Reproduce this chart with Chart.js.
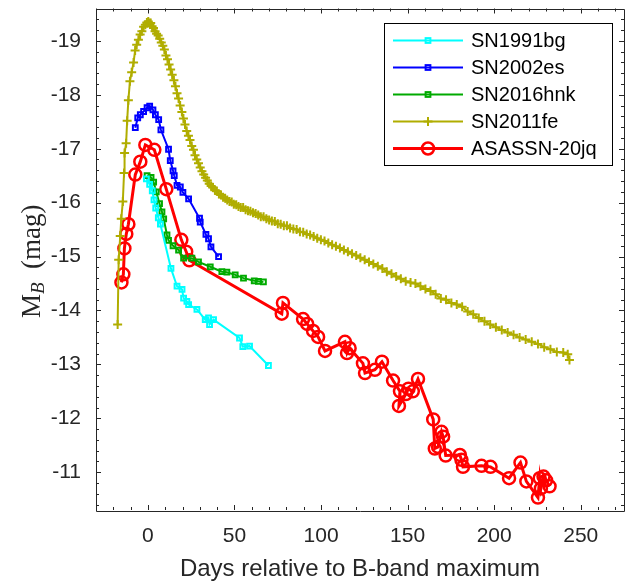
<!DOCTYPE html>
<html>
<head>
<meta charset="utf-8">
<script src="https://cdn.jsdelivr.net/npm/chart.js@4.4.1/dist/chart.umd.min.js"></script>
<style>
  body { margin: 0; background: #fff; }
</style>
</head>
<body>
<canvas id="lcChart" width="635" height="584"></canvas>
<script>
// light curves: days relative to B max, absolute B magnitude
var sn1991bgDays = [-0.9, 1.0, 2.5, 3.5, 4.5, 6.0, 7.2, 13.3, 16.8, 19.7, 20.6, 22.5, 23.5, 28.3, 33.1, 35.0, 35.6, 37.9, 52.9, 54.8, 58.7, 69.6];
var sn1991bgMag  = [-16.44, -16.34, -16.22, -16.05, -15.90, -15.72, -15.60, -14.78, -14.45, -14.39, -14.23, -14.17, -14.11, -14.02, -13.83, -13.86, -13.74, -13.83, -13.49, -13.33, -13.34, -12.98];

var sn2002esDays = [-7.3, -5.9, -4.4, -2.5, -0.5, 1.0, 2.9, 4.3, 6.2, 7.5, 11.9, 12.9, 14.5, 15.2, 16.8, 18.7, 20.2, 23.5, 29.8, 30.2, 33.5, 35.0, 36.4, 40.8];
var sn2002esMag  = [-17.39, -17.57, -17.63, -17.69, -17.76, -17.79, -17.72, -17.63, -17.54, -17.35, -16.99, -16.78, -16.59, -16.50, -16.32, -16.29, -16.19, -16.07, -15.71, -15.64, -15.41, -15.33, -15.18, -15.00];

var sn2016hnkDays = [-0.5, 1.8, 3.3, 4.8, 6.7, 8.1, 9.1, 11.0, 11.9, 14.5, 17.7, 20.6, 25.4, 29.2, 36.0, 42.7, 45.6, 50.4, 55.2, 61.4, 63.8, 66.7];
var sn2016hnkMag  = [-16.50, -16.47, -16.38, -16.20, -15.98, -15.83, -15.70, -15.40, -15.30, -15.20, -15.12, -14.97, -14.97, -14.90, -14.81, -14.72, -14.71, -14.66, -14.60, -14.55, -14.54, -14.53];

var sn2011feDays = [-17.5, -16.9, -16.0, -15.4, -14.5, -13.8, -13.5, -12.6, -12.0, -11.3, -10.4, -9.4, -8.3, -7.4, -6.5, -5.5, -4.5, -3.5, -2.5, -1.5,
  -0.6, 0.2, 0.9, 1.6, 2.4, 3.2, 4.1, 5.0, 5.9, 6.8, 7.7, 8.6, 9.5, 10.4, 11.3, 12.2, 13.1, 14.0, 15.0, 15.9,
  16.8, 17.7, 18.6, 19.6, 20.5, 21.4, 22.4, 23.4, 24.3, 25.3, 26.3, 27.2, 28.2, 29.2, 30.2, 31.2, 32.2, 33.3, 34.3, 35.4,
  36.5, 37.6, 38.7, 39.8, 41.0, 42.2, 43.4, 44.6, 45.8, 47.1, 48.4, 49.6, 51.0, 52.3, 53.6, 55.0, 56.4, 57.8, 59.2, 60.7,
  62.2, 63.7, 65.2, 66.8, 68.4, 70.0, 71.6, 73.3, 75.0, 76.7, 78.5, 80.3, 82.1, 84.0, 85.9, 87.8, 89.7, 91.7, 93.7, 95.7,
  97.8, 99.9, 102.0, 104.2, 106.4, 108.6, 110.9, 113.2, 115.5, 117.9, 120.3, 122.7, 125.2, 127.7, 130.2, 132.8, 135.4, 138.0, 140.7, 143.4,
  146.1, 148.9, 151.7, 154.5, 157.4, 160.3, 163.2, 166.2, 169.2, 172.2, 175.3, 178.4, 181.5, 184.7, 187.9, 191.1, 194.4, 197.7, 201.0, 204.4,
  207.8, 211.2, 214.7, 218.2, 221.7, 225.3, 228.9, 232.5, 236.2, 239.9, 242.5, 243.5];
var sn2011feMag = [-13.74, -14.94, -15.38, -15.70, -16.02, -16.55, -16.92, -17.10, -17.52, -17.90, -18.25, -18.42, -18.60, -18.82, -18.93, -19.02, -19.12, -19.18, -19.26, -19.30,
  -19.34, -19.36, -19.33, -19.33, -19.27, -19.24, -19.18, -19.13, -19.10, -19.04, -18.97, -18.91, -18.84, -18.73, -18.66, -18.56, -18.47, -18.37, -18.27, -18.16,
  -18.03, -17.93, -17.80, -17.68, -17.56, -17.45, -17.33, -17.24, -17.16, -17.05, -16.98, -16.88, -16.80, -16.73, -16.65, -16.58, -16.52, -16.46, -16.41, -16.35,
  -16.31, -16.28, -16.23, -16.21, -16.16, -16.14, -16.10, -16.08, -16.05, -16.02, -16.01, -15.97, -15.96, -15.93, -15.91, -15.91, -15.87, -15.85, -15.84, -15.81,
  -15.80, -15.77, -15.74, -15.74, -15.70, -15.68, -15.66, -15.65, -15.61, -15.60, -15.57, -15.57, -15.53, -15.51, -15.50, -15.46, -15.45, -15.42, -15.40, -15.37,
  -15.34, -15.31, -15.29, -15.25, -15.22, -15.19, -15.16, -15.12, -15.09, -15.05, -15.02, -14.98, -14.94, -14.90, -14.86, -14.82, -14.78, -14.72, -14.68, -14.63,
  -14.59, -14.54, -14.52, -14.50, -14.45, -14.40, -14.36, -14.30, -14.22, -14.20, -14.14, -14.11, -14.07, -13.98, -13.93, -13.86, -13.80, -13.74, -13.69, -13.64,
  -13.59, -13.55, -13.50, -13.46, -13.42, -13.38, -13.32, -13.28, -13.23, -13.22, -13.19, -13.08];

var asassnDays = [-15.3, -14.2, -13.6, -12.5, -11.3, -7.3, -4.4, -1.5, 3.7, 10.6, 19.3, 22.1, 23.9, 77.3, 78.0, 89.6, 92.0, 95.4, 98.3, 102.3,
  113.8, 115.0, 116.5, 124.2, 125.4, 131.1, 135.2, 141.6, 145.6, 145.0, 149.0, 150.5, 153.0, 156.0, 164.8, 165.7, 167.6, 169.6, 170.5, 172.0,
  180.2, 181.1, 182.0, 192.7, 197.9, 208.6, 215.2, 218.6, 225.3, 226.3, 227.0, 228.5, 230.0, 232.0];
var asassnMag = [-14.52, -14.67, -15.15, -15.42, -15.60, -16.52, -16.76, -17.07, -16.98, -16.25, -15.31, -15.09, -14.93, -13.94, -14.14, -13.84, -13.75, -13.62, -13.51, -13.25,
  -13.42, -13.21, -13.30, -13.02, -12.84, -12.90, -13.05, -12.70, -12.50, -12.23, -12.45, -12.55, -12.50, -12.73, -11.98, -11.44, -11.47, -11.75, -11.66, -11.31,
  -11.32, -11.23, -11.10, -11.12, -11.10, -10.89, -11.18, -10.83, -10.53, -10.89, -10.70, -10.92, -10.85, -10.74];

var xTicks = [0, 50, 100, 150, 200, 250];
var yTicks = [-19, -18, -17, -16, -15, -14, -13, -12, -11];

function pts(xs, ys) {
    return xs.map(function(x, i) { return {x: x, y: ys[i]}; });
}

const colors = {
    sn1991bg: '#00ffff',
    sn2002es: '#0000ff',
    sn2016hnk: '#00aa00',
    sn2011fe: '#b0ad00',
    asassn: '#ff0000'
};
var axisColor = '#262626';

// MATLAB-style box with inward ticks on all four sides
var framePlugin = {
    id: 'frame',
    afterDatasetsDraw: function(chart) {
        var ctx = chart.ctx, a = chart.chartArea;
        var xs = chart.scales.x, ys = chart.scales.y;
        ctx.save();
        ctx.strokeStyle = axisColor;
        ctx.lineWidth = 1;
        ctx.beginPath();
        ctx.rect(Math.round(a.left) + 0.5, Math.round(a.top) + 0.5, Math.round(a.right - a.left), Math.round(a.bottom - a.top));
        ctx.stroke();
        ctx.beginPath();
        for (var d = -30; d <= 275; d += 10) {
            var px = Math.round(xs.getPixelForValue(d)) + 0.5;
            var len = (d % 50 === 0) ? 5 : 3;
            ctx.moveTo(px, a.bottom); ctx.lineTo(px, a.bottom - len);
            ctx.moveTo(px, a.top); ctx.lineTo(px, a.top + len);
        }
        for (var m = -19.4; m <= -10.4; m += 0.2) {
            var v = Math.round(m * 10) / 10;
            var py = Math.round(ys.getPixelForValue(v)) + 0.5;
            var l2 = (Math.abs(v - Math.round(v)) < 0.01) ? 5 : 3;
            ctx.moveTo(a.left, py); ctx.lineTo(a.left + l2, py);
            ctx.moveTo(a.right, py); ctx.lineTo(a.right - l2, py);
        }
        ctx.stroke();
        ctx.restore();
    }
};

function drawMarker(ctx, ds, x, y) {
    ctx.strokeStyle = ds.borderColor;
    ctx.lineWidth = ds.pointBorderWidth;
    var r = ds.pointRadius;
    if (ds.pointStyle === 'rect') {
        ctx.strokeRect(x - r * 0.7, y - r * 0.7, r * 1.4, r * 1.4);
    } else if (ds.pointStyle === 'circle') {
        ctx.beginPath(); ctx.arc(x, y, r, 0, Math.PI * 2); ctx.stroke();
    } else if (ds.pointStyle === 'cross') {
        ctx.beginPath();
        ctx.moveTo(x - r, y); ctx.lineTo(x + r, y);
        ctx.moveTo(x, y - r); ctx.lineTo(x, y + r);
        ctx.stroke();
    }
}

// boxed legend with line + marker samples
var legendPlugin = {
    id: 'boxLegend',
    afterDraw: function(chart) {
        var ctx = chart.ctx, a = chart.chartArea;
        var right = a.right - 12, top = a.top + 14;
        var left = right - 228, h = 142;
        ctx.save();
        ctx.fillStyle = '#fff';
        ctx.fillRect(left, top, right - left, h);
        ctx.strokeStyle = '#000';
        ctx.lineWidth = 1;
        ctx.strokeRect(Math.round(left) + 0.5, Math.round(top) + 0.5, Math.round(right - left), h);
        ctx.font = '20px "Liberation Sans", Arial, sans-serif';
        ctx.textBaseline = 'middle';
        chart.data.datasets.forEach(function(ds, i) {
            var y = top + 18 + i * 27;
            ctx.strokeStyle = ds.borderColor;
            ctx.lineWidth = ds.borderWidth;
            ctx.beginPath();
            ctx.moveTo(left + 9, y); ctx.lineTo(left + 79, y);
            ctx.stroke();
            drawMarker(ctx, ds, left + 44, y);
            ctx.fillStyle = '#000';
            ctx.fillText(ds.label, left + 87, y + 1);
        });
        ctx.restore();
    }
};

// y title with subscript: M_B (mag)
var yTitlePlugin = {
    id: 'yTitle',
    afterDraw: function(chart) {
        var ctx = chart.ctx, a = chart.chartArea;
        var cy = (a.top + a.bottom) / 2 + 2;
        ctx.save();
        ctx.translate(40, cy);
        ctx.rotate(-Math.PI / 2);
        ctx.fillStyle = axisColor;
        ctx.textBaseline = 'alphabetic';
        var big = '27px "Liberation Serif", "DejaVu Serif", serif';
        var sub = 'italic 19px "Liberation Serif", "DejaVu Serif", serif';
        ctx.font = big;
        var wM = ctx.measureText('M').width;
        var wRest = ctx.measureText('  (mag)').width;
        ctx.font = sub;
        var wB = ctx.measureText('B').width;
        var x0 = -(wM + wB + wRest) / 2;
        ctx.font = big;
        ctx.fillText('M', x0, 0);
        ctx.font = sub;
        ctx.fillText('B', x0 + wM, 4);
        ctx.font = big;
        ctx.fillText('  (mag)', x0 + wM + wB, 0);
        ctx.restore();
    }
};

var ctx = document.getElementById('lcChart').getContext('2d');

new Chart(ctx, {
    type: 'scatter',
    data: {
        datasets: [
            {
                label: 'SN1991bg',
                data: pts(sn1991bgDays, sn1991bgMag),
                showLine: true,
                borderColor: colors.sn1991bg,
                backgroundColor: 'rgba(0,0,0,0)',
                borderWidth: 2,
                pointStyle: 'rect',
                pointRadius: 3.4,
                pointBorderWidth: 2
            },
            {
                label: 'SN2002es',
                data: pts(sn2002esDays, sn2002esMag),
                showLine: true,
                borderColor: colors.sn2002es,
                backgroundColor: 'rgba(0,0,0,0)',
                borderWidth: 2,
                pointStyle: 'rect',
                pointRadius: 3.4,
                pointBorderWidth: 2
            },
            {
                label: 'SN2016hnk',
                data: pts(sn2016hnkDays, sn2016hnkMag),
                showLine: true,
                borderColor: colors.sn2016hnk,
                backgroundColor: 'rgba(0,0,0,0)',
                borderWidth: 2,
                pointStyle: 'rect',
                pointRadius: 3.4,
                pointBorderWidth: 2
            },
            {
                label: 'SN2011fe',
                data: pts(sn2011feDays, sn2011feMag),
                showLine: true,
                borderColor: colors.sn2011fe,
                backgroundColor: 'rgba(0,0,0,0)',
                borderWidth: 2,
                pointStyle: 'cross',
                pointRadius: 4.5,
                pointBorderWidth: 2
            },
            {
                label: 'ASASSN-20jq',
                data: pts(asassnDays, asassnMag),
                showLine: true,
                borderColor: colors.asassn,
                backgroundColor: 'rgba(0,0,0,0)',
                borderWidth: 3,
                pointStyle: 'circle',
                pointRadius: 6,
                pointBorderWidth: 2.5
            }
        ]
    },
    options: {
        responsive: false,
        animation: false,
        layout: { padding: { top: 6, right: 11, left: 0, bottom: 0 } },
        plugins: {
            legend: { display: false },
            tooltip: { enabled: false }
        },
        scales: {
            x: {
                type: 'linear',
                min: -30,
                max: 275,
                grid: { display: false, drawTicks: false },
                border: { display: false },
                afterBuildTicks: function(s) { s.ticks = xTicks.map(function(v) { return {value: v}; }); },
                afterFit: function(s) { s.height = 74; s.paddingLeft = 0; s.paddingRight = 0; },
                ticks: {
                    padding: 14,
                    color: axisColor,
                    font: { family: '"Liberation Sans", Arial, sans-serif', size: 21 },
                    maxRotation: 0,
                    callback: function(v) { return String(v); }
                },
                title: {
                    display: true,
                    text: 'Days relative to B-band maximum',
                    color: axisColor,
                    font: { family: '"Liberation Sans", Arial, sans-serif', size: 24 },
                    padding: { top: 0, bottom: 0 }
                }
            },
            y: {
                type: 'linear',
                reverse: true,
                min: -19.6,
                max: -10.3,
                grid: { display: false, drawTicks: false },
                border: { display: false },
                afterBuildTicks: function(s) { s.ticks = yTicks.map(function(v) { return {value: v}; }); },
                afterFit: function(s) { s.width = 96; s.paddingTop = 0; s.paddingBottom = 0; },
                ticks: {
                    padding: 15,
                    color: axisColor,
                    font: { family: '"Liberation Sans", Arial, sans-serif', size: 21 },
                    callback: function(v) { return String(v); }
                },
                title: { display: false }
            }
        }
    },
    plugins: [framePlugin, legendPlugin, yTitlePlugin]
});
</script>
</body>
</html>
